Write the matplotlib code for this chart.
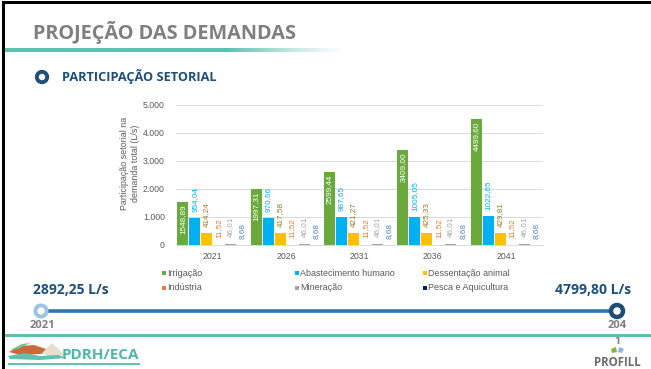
import numpy as np
import matplotlib
matplotlib.use("Agg")
import matplotlib.pyplot as plt
from matplotlib.patches import Circle, Polygon, Rectangle

# ---- data -------------------------------------------------------------
years = ["2021", "2026", "2031", "2036", "2041"]
sectors = ["Irrigação", "Abastecimento humano", "Dessentação animal",
           "Indústria", "Mineração", "Pesca e Aquicultura"]
irrigacao = [1548.89, 1997.31, 2599.44, 3409.00, 4499.60]
abastecimento = [954.04, 970.66, 987.65, 1005.05, 1022.65]
dessentacao = [414.24, 417.58, 421.27, 425.33, 429.81]
industria = [11.52, 11.52, 11.52, 11.52, 11.52]
mineracao = [46.01, 46.01, 46.01, 46.01, 46.01]
pesca = [8.68, 8.68, 8.68, 8.68, 8.68]
yticks = [0, 1000, 2000, 3000, 4000, 5000]
ytick_labels = ["0", "1.000", "2.000", "3.000", "4.000", "5.000"]
total_inicio = "2892,25 L/s"
total_fim = "4799,80 L/s"
ano_inicio = "2021"
ano_fim = "204"

series = [irrigacao, abastecimento, dessentacao, industria, mineracao, pesca]
bar_colors = ["#6aaa3c", "#00b0f0", "#ffc000", "#ed7d31", "#a5a5a5", "#002060"]
label_colors = ["white", "#00b0f0", "#9a7b22", "#ed7d31", "#a5a5a5", "#4f81c7"]

W, H = 651, 369
CHART_FONT = "Liberation Sans"
SLIDE_FONT = "Open Sans"
GRAY_TXT = "#595959"
NAVY = "#1f4e79"
TEAL = "#5fc0b0"


def fmt(v):
    return f"{v:.2f}".replace(".", ",")


fig = plt.figure(figsize=(W / 100, H / 100), dpi=100)
fig.patch.set_facecolor("white")

# overlay in pixel coordinates for slide decorations
ov = fig.add_axes([0, 0, 1, 1], zorder=0)
ov.set_xlim(0, W)
ov.set_ylim(H, 0)
ov.axis("off")

# slide frame
ov.add_patch(Rectangle((1.5, 1.0), W, 3.0, color="black", lw=0))
ov.add_patch(Rectangle((1.5, 1.0), 3.0, H, color="black", lw=0))

# title
ov.text(33, 33, "PROJEÇÃO DAS DEMANDAS", fontsize=14.3, fontweight="bold",
        color="#7f7f7f", family=SLIDE_FONT, va="center", ha="left")

# fading teal rule below the title
grad = np.ones((1, 400, 4))
teal_rgb = matplotlib.colors.to_rgb(TEAL)
grad[0, :, :3] = teal_rgb
xs = np.linspace(0, 1, 400)
grad[0, :, 3] = np.clip((1 - xs) / 0.35, 0, 1) ** 1.2
ov.imshow(grad, extent=(4.5, 345, 52, 48.5), aspect="auto", zorder=1)

# section marker + subtitle
ov.add_patch(Circle((42, 77), 5.2, facecolor="white", edgecolor=NAVY, lw=2.8))
ov.text(62, 77, "PARTICIPAÇÃO SETORIAL", fontsize=9.2, fontweight="bold",
        color=NAVY, family=SLIDE_FONT, va="center", ha="left")

# ---- bar chart --------------------------------------------------------
ax = fig.add_axes([176 / W, 1 - 245 / H, (543 - 176) / W, (245 - 105) / H], zorder=2)
ax.set_facecolor("none")
ax.set_xlim(-0.5, 4.5)
ax.set_ylim(0, 5000)
x = np.arange(len(years))
step = 0.163
width = 0.15
for i, (vals, col, lcol) in enumerate(zip(series, bar_colors, label_colors)):
    pos = x + (i - 2.5) * step
    ax.bar(pos, vals, width=width, color=col, zorder=3)
    for px, v in zip(pos, vals):
        if i == 0:
            ax.annotate(fmt(v), (px, v), xytext=(0, -2), textcoords="offset points",
                        rotation=90, ha="center", va="top", fontsize=5.9,
                        color=lcol, family=CHART_FONT, zorder=4)
        else:
            ax.annotate(fmt(v), (px, v), xytext=(0, 4.5), textcoords="offset points",
                        rotation=90, ha="center", va="bottom", fontsize=5.9,
                        color=lcol, family=CHART_FONT, zorder=4)

ax.set_yticks(yticks)
ax.set_yticklabels(ytick_labels)
ax.set_xticks(x)
ax.set_xticklabels(years)
ax.yaxis.grid(True, color="#d9d9d9", lw=0.7)
ax.set_axisbelow(True)
for s in ["top", "right", "left"]:
    ax.spines[s].set_visible(False)
ax.spines["bottom"].set_color("#d9d9d9")
ax.spines["bottom"].set_linewidth(0.7)
ax.tick_params(axis="y", length=0, pad=8, labelsize=6.3, labelcolor=GRAY_TXT)
ax.tick_params(axis="x", length=0, pad=5, labelsize=6.3, labelcolor=GRAY_TXT)
for lab in ax.get_xticklabels() + ax.get_yticklabels():
    lab.set_family(CHART_FONT)

ov.text(130, 163, "Participação setorial na\ndemanda total (L/s)", rotation=90,
        ha="center", va="center", fontsize=6.4, color=GRAY_TXT,
        family=CHART_FONT, linespacing=1.15)

# legend, three columns by two rows
leg_x = [164, 297, 425]
leg_y = [273, 288]
for k, (name, col) in enumerate(zip(sectors, bar_colors)):
    cx = leg_x[k % 3]
    cy = leg_y[k // 3]
    ov.add_patch(Rectangle((cx - 1.9, cy - 1.9), 3.8, 3.8, color=col, lw=0))
    ov.text(cx + 3.5, cy, name, fontsize=6.5, color=GRAY_TXT, family=CHART_FONT,
            va="center", ha="left")

# ---- timeline --------------------------------------------------------
ov.text(33, 290, total_inicio, fontsize=10, fontweight="bold", color=NAVY,
        family=SLIDE_FONT, va="center", ha="left")
ov.text(631, 290, total_fim, fontsize=10, fontweight="bold", color=NAVY,
        family=SLIDE_FONT, va="center", ha="right")
ov.plot([44, 614], [311, 311], color="#2e75b6", lw=2.6, solid_capstyle="butt", zorder=2)
ov.add_patch(Circle((41, 311), 5.6, facecolor="white", edgecolor="#9dc3e6", lw=2.8, zorder=3))
ov.add_patch(Circle((617, 311), 6.0, facecolor="white", edgecolor=NAVY, lw=3.2, zorder=3))
ov.text(42, 326, ano_inicio, fontsize=8, fontweight="bold", color="#7f7f7f",
        family=SLIDE_FONT, va="center", ha="center")
ov.text(617, 326, ano_fim, fontsize=8, fontweight="bold", color="#7f7f7f",
        family=SLIDE_FONT, va="center", ha="center")
ov.text(617, 341, "1", fontsize=7.5, fontweight="bold", color="#7f7f7f",
        family=SLIDE_FONT, va="center", ha="center", zorder=1)

# footer rule
ov.add_patch(Rectangle((4.5, 334), W, 3.0, color=TEAL, lw=0))

# ---- footer logos ------------------------------------------------------
# PDRH/ECA emblem: stylised landscape
ov.add_patch(Polygon([(9, 352), (20, 346), (34, 345), (46, 349), (52, 352), (40, 354), (20, 355)],
                     closed=True, color="#c96a3b", lw=0))
ov.add_patch(Polygon([(42, 353), (52, 343), (60, 350), (66, 356), (50, 357)],
                     closed=True, color="#e7e0d2", lw=0, ec="#9aa9a6"))
ov.add_patch(Polygon([(10, 350), (22, 344), (30, 343), (18, 349)],
                     closed=True, color="#7bbf8a", lw=0))
ov.add_patch(Polygon([(8, 356), (25, 353), (40, 356), (58, 355), (66, 358), (40, 360), (10, 359)],
                     closed=True, color="#5fc0b0", lw=0))
ov.add_patch(Rectangle((8, 363), 132, 2.2, color="#5fc0b0", lw=0))
ov.text(62, 355, "PDRH/ECA", fontsize=11, fontweight="bold", color="#4fb7a7",
        family=SLIDE_FONT, va="center", ha="left")

# PROFILL mark
ov.add_patch(Polygon([(611, 349), (616, 347), (617, 352), (612, 353)], closed=True,
                     color="#7cbb3f", lw=0))
ov.add_patch(Polygon([(618, 352), (619, 347), (624, 349), (622, 353)], closed=True,
                     color="#8fb8de", lw=0))
ov.text(617, 363, "PROFILL", fontsize=8.3, fontweight="bold", color="#6d6d6d",
        family=SLIDE_FONT, va="center", ha="center")

fig.savefig("out.png", dpi=100, facecolor="white")
